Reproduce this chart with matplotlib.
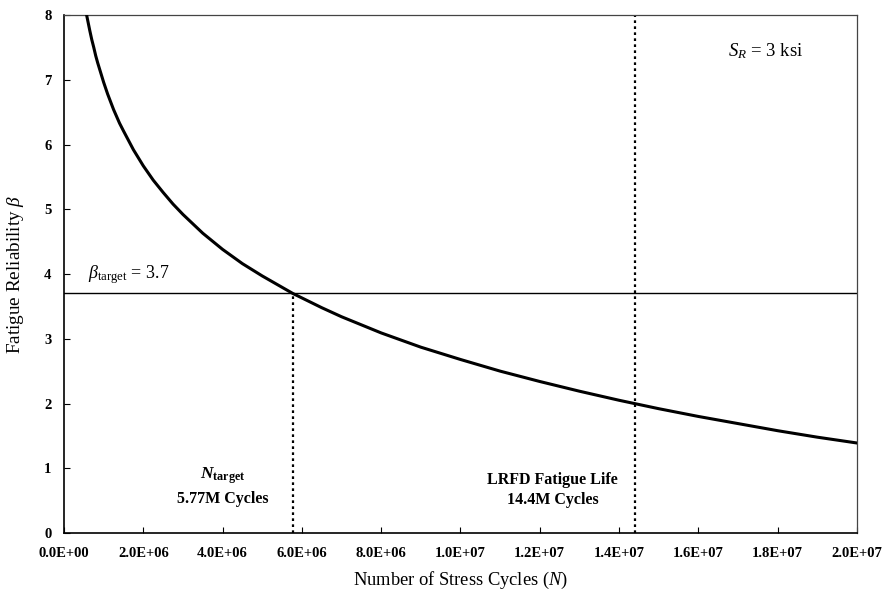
import matplotlib
matplotlib.use("Agg")
import matplotlib.pyplot as plt
from matplotlib.ticker import FuncFormatter, MultipleLocator

plt.rcParams['font.family'] = ['Liberation Serif', 'DejaVu Serif']
plt.rcParams['mathtext.fontset'] = 'custom'
plt.rcParams['mathtext.rm'] = 'Liberation Serif'
plt.rcParams['mathtext.it'] = 'Liberation Serif:italic'
plt.rcParams['mathtext.bf'] = 'Liberation Serif:bold'
plt.rcParams['mathtext.bfit'] = 'Liberation Serif:bold:italic'

# stress cycles (millions) and reliability index
cycles_m = [0.57, 0.60, 0.65, 0.70, 0.75, 0.80, 0.85, 0.9, 1.0, 1.1, 1.25, 1.4,
            1.5, 1.75, 2.0, 2.25, 2.5, 2.75, 3.0, 3.5, 4.0, 4.5, 5.0, 5.77, 6.5,
            7.0, 8.0, 9.0, 10, 11, 12, 13, 14, 15, 16, 17, 18, 19, 20]
beta = [8.00, 7.91, 7.76, 7.62, 7.50, 7.37, 7.26, 7.16, 6.96, 6.78, 6.54, 6.33,
        6.21, 5.92, 5.67, 5.45, 5.26, 5.08, 4.92, 4.63, 4.38, 4.16, 3.97, 3.70,
        3.48, 3.34, 3.09, 2.87, 2.68, 2.50, 2.34, 2.19, 2.05, 1.92, 1.80, 1.69,
        1.58, 1.48, 1.39]

beta_target = 3.7
n_target = 5.77e6
n_lrfd = 14.4e6

n = [c * 1e6 for c in cycles_m]

fig = plt.figure(figsize=(8.83, 5.94), dpi=100)
ax = fig.add_axes([0.0725, 0.1027, 0.898, 0.872])

ax.plot(n, beta, color='black', lw=2.2, zorder=3, solid_joinstyle='round')
ax.axhline(beta_target, color='black', lw=1.0)
ax.plot([n_target, n_target], [0, beta_target], color='black', lw=1.6,
        ls=(0, (1.2, 1.5)))
ax.plot([n_lrfd, n_lrfd], [0, 8], color='black', lw=1.6, ls=(0, (1.2, 1.5)))

ax.set_xlim(0, 2.0e7)
ax.set_ylim(0, 8)
ax.xaxis.set_major_locator(MultipleLocator(2e6))
ax.yaxis.set_major_locator(MultipleLocator(1))
ax.xaxis.set_major_formatter(FuncFormatter(lambda v, p: f"{v:.1E}"))
ax.yaxis.set_major_formatter(FuncFormatter(lambda v, p: f"{int(round(v))}"))
ax.tick_params(direction='in', length=4, width=0.8, labelsize=10.5)
ax.tick_params(axis='x', pad=10)
ax.tick_params(axis='y', pad=9)
for lab in ax.get_xticklabels() + ax.get_yticklabels():
    lab.set_fontweight('bold')

for s in ['top', 'right']:
    ax.spines[s].set_color('#444444')
    ax.spines[s].set_linewidth(0.9)
for s in ['left', 'bottom']:
    ax.spines[s].set_color('black')
    ax.spines[s].set_linewidth(1.2)

ax.set_xlabel(r'Number of Stress Cycles ($N$)', fontsize=13.3, labelpad=7)
ax.set_ylabel(r'Fatigue Reliability $\beta$', fontsize=13.8, labelpad=13)

ax.text(0.6e6, 3.82, r'$\beta_{\mathrm{target}}$ = 3.7', fontsize=13, va='bottom')
ax.text(0.838, 0.93, r'$S_R$ = 3 ksi', transform=ax.transAxes, fontsize=13.5,
        va='center', ha='left')

ax.text(4.0e6, 0.89, r'$\mathbfit{N}_{\mathbf{target}}$', fontsize=12.5,
        ha='center', va='center')
ax.text(4.0e6, 0.53, '5.77M Cycles', fontsize=11.5, fontweight='bold',
        ha='center', va='center')
ax.text(1.233e7, 0.66, 'LRFD Fatigue Life\n14.4M Cycles', fontsize=11.5,
        fontweight='bold', ha='center', va='center', linespacing=1.3)

fig.savefig('out.png', dpi=100)
